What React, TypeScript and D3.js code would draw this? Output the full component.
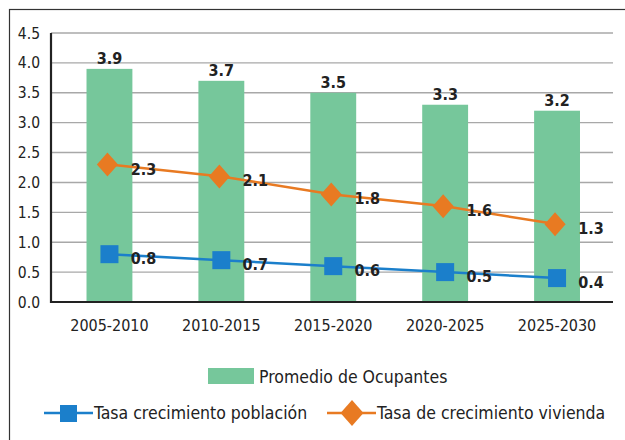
import React from "react";
import * as d3 from "d3";

const categories = ["2005-2010", "2010-2015", "2015-2020", "2020-2025", "2025-2030"];
const ocupantes = [3.9, 3.7, 3.5, 3.3, 3.2];
const vivienda = [2.3, 2.1, 1.8, 1.6, 1.3];
const poblacion = [0.8, 0.7, 0.6, 0.5, 0.4];
const yTicks = [0, 0.5, 1, 1.5, 2, 2.5, 3, 3.5, 4, 4.5];
const legendBar = "Promedio de Ocupantes";
const legendPob = "Tasa crecimiento población";
const legendViv = "Tasa de crecimiento vivienda";

const GREEN = "#76c79b";
const ORANGE = "#e87a22";
const BLUE = "#1b7fcb";
const FONT = "'DejaVu Sans Condensed', 'Liberation Sans Narrow', Roboto, sans-serif";
const BOLD = "'Liberation Sans Narrow', 'DejaVu Sans Condensed', Roboto, sans-serif";

export default function App() {
  const W = 625, H = 440;
  const x = d3.scaleBand<string>().domain(categories).range([53.5, 613]).paddingInner(0.59).paddingOuter(0.295);
  const y = d3.scaleLinear().domain([0, 4.5]).range([302, 33]);
  const cx = (c: string) => (x(c) as number) + x.bandwidth() / 2;
  const line = d3.line<number>().x((_, i) => cx(categories[i])).y((d) => y(d));
  const diamond = (s: number) => `M0,${-s}L${s * 0.88},0L0,${s}L${-s * 0.88},0Z`;

  return (
    <svg width={W} height={H} style={{ position: "absolute", left: 0, top: 0 }}>
      <rect x={0} y={0} width={W} height={H} fill="#fff" />
      <rect x={9.5} y={9.5} width={W + 10} height={H + 10} fill="none" stroke="#333" strokeWidth={1.2} />
      {yTicks.map((t) => (
        <g key={t}>
          {t > 0 && <line x1={51} x2={613} y1={y(t)} y2={y(t)} stroke="#a8a8a8" strokeWidth={1.4} />}
          <text x={40} y={y(t)} dy="0.36em" textAnchor="end" fontFamily={FONT} fontSize={15.5} fill="#222">
            {t.toFixed(1)}
          </text>
        </g>
      ))}
      {categories.map((c, i) => (
        <g key={c}>
          <rect x={x(c)} y={y(ocupantes[i])} width={x.bandwidth()} height={y(0) - y(ocupantes[i])} fill={GREEN} />
          <text x={cx(c)} y={y(ocupantes[i]) - 5} textAnchor="middle" fontFamily={BOLD} fontWeight="bold" fontSize={16} fill="#222">
            {ocupantes[i].toFixed(1)}
          </text>
          <text x={cx(c)} y={331} textAnchor="middle" fontFamily={FONT} fontSize={16} fill="#222">
            {c}
          </text>
        </g>
      ))}
      <line x1={51} x2={51} y1={33} y2={303} stroke="#222" strokeWidth={2.2} />
      <line x1={50} x2={613} y1={302} y2={302} stroke="#222" strokeWidth={2.2} />
      <path d={line(vivienda) || ""} fill="none" stroke={ORANGE} strokeWidth={2.5} />
      <path d={line(poblacion) || ""} fill="none" stroke={BLUE} strokeWidth={2.5} />
      {categories.map((c, i) => (
        <g key={"m" + c}>
          <path d={diamond(12)} transform={`translate(${cx(c) - 2},${y(vivienda[i])})`} fill={ORANGE} />
          <text x={cx(c) + 34} y={y(vivienda[i]) + 10} textAnchor="middle" fontFamily={BOLD} fontWeight="bold" fontSize={16} fill="#222">
            {vivienda[i].toFixed(1)}
          </text>
          <rect x={cx(c) - 9} y={y(poblacion[i]) - 9} width={18} height={18} fill={BLUE} />
          <text x={cx(c) + 34} y={y(poblacion[i]) + 10} textAnchor="middle" fontFamily={BOLD} fontWeight="bold" fontSize={16} fill="#222">
            {poblacion[i].toFixed(1)}
          </text>
        </g>
      ))}
      <rect x={208} y={368} width={46} height={16} fill={GREEN} />
      <text x={259} y={383} fontFamily={FONT} fontSize={17.5} fill="#222">{legendBar}</text>
      <line x1={44} x2={93} y1={413} y2={413} stroke={BLUE} strokeWidth={2.5} />
      <rect x={60} y={405} width={17} height={17} fill={BLUE} />
      <text x={94} y={419} fontFamily={FONT} fontSize={17.5} fill="#222">{legendPob}</text>
      <line x1={327} x2={376} y1={413} y2={413} stroke={ORANGE} strokeWidth={2.5} />
      <path d={diamond(13)} transform="translate(352,413)" fill={ORANGE} />
      <text x={377} y={419} fontFamily={FONT} fontSize={17.5} fill="#222">{legendViv}</text>
    </svg>
  );
}
